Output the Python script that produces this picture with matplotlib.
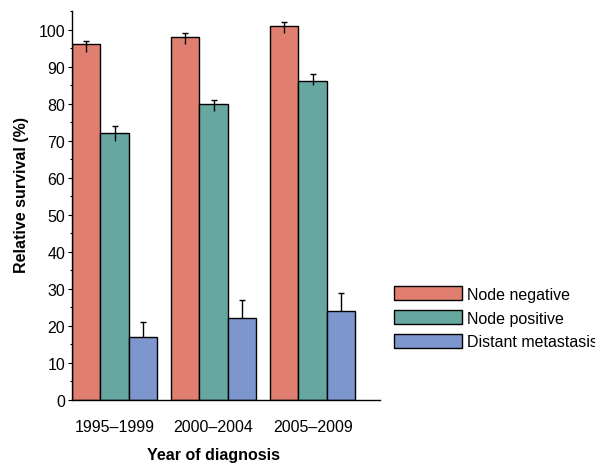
import numpy as np
import matplotlib
matplotlib.use('Agg')
import matplotlib.pyplot as plt
from matplotlib.ticker import MultipleLocator
from matplotlib.transforms import blended_transform_factory

# Data
periods = ['1995\u20131999', '2000\u20132004', '2005\u20132009']
series = ['Node negative', 'Node positive', 'Distant metastasis']
node_neg = [96, 98, 101]
node_neg_lo = [94, 96, 99]
node_neg_hi = [97, 99, 102]
node_pos = [72, 80, 86]
node_pos_lo = [70, 78, 85]
node_pos_hi = [74, 81, 88]
distant = [17, 22, 24]
distant_lo = [17, 22, 24]
distant_hi = [21, 27, 29]

colors = ['#E07F70', '#66A7A0', '#7D96CE']

plt.rcParams['font.family'] = ['Liberation Sans', 'DejaVu Sans']
fs = 11.5

fig = plt.figure(figsize=(5.95, 4.64), dpi=100)
ax = fig.add_axes([72/595, 1 - 401/464, 308/595, 389/464])

x = np.arange(len(periods))
w = 0.287
vals = [node_neg, node_pos, distant]
los = [node_neg_lo, node_pos_lo, distant_lo]
his = [node_neg_hi, node_pos_hi, distant_hi]

for i in range(3):
    pos = x + (i - 1) * w
    ax.bar(pos, vals[i], width=w, color=colors[i], edgecolor='black',
           linewidth=1.0, label=series[i], zorder=2)
    v = np.array(vals[i])
    err = [v - np.array(los[i]), np.array(his[i]) - v]
    _, caps, _ = ax.errorbar(pos, v, yerr=err, fmt='none', ecolor='black',
                             elinewidth=1.0, capsize=2, capthick=1.0, zorder=3)
    caps[0].set_visible(False)

ax.set_xlim(-0.43, 2.68)
ax.set_ylim(0, 105)
ax.yaxis.set_major_locator(MultipleLocator(10))
ax.yaxis.set_minor_locator(MultipleLocator(5))
ax.set_xticks(x)
ax.set_xticklabels(periods)
ax.tick_params(axis='x', length=0, pad=14, labelsize=fs)
ax.tick_params(axis='y', which='major', length=3, width=0.8, pad=2, labelsize=fs)
ax.tick_params(axis='y', which='minor', length=1.2, width=0.8)

for s in ['top', 'right']:
    ax.spines[s].set_visible(False)
ax.spines['left'].set_linewidth(1.0)
ax.spines['bottom'].set_linewidth(1.0)

ax.set_xlabel('Year of diagnosis', fontsize=fs, fontweight='bold')
ax.xaxis.set_label_coords(1, -0.121, transform=blended_transform_factory(ax.transData, ax.transAxes))
ax.set_ylabel('Relative survival (%)', fontsize=fs, fontweight='bold')
ax.yaxis.set_label_coords(-0.14, 0.53)

fig.legend(loc='upper left', bbox_to_anchor=(394/595, 1 - 287/464),
           frameon=False, fontsize=fs, handlelength=4.25, handleheight=1.0,
           labelspacing=0.52, handletextpad=0.3, borderpad=0, borderaxespad=0)

fig.savefig('out.png', dpi=100)
